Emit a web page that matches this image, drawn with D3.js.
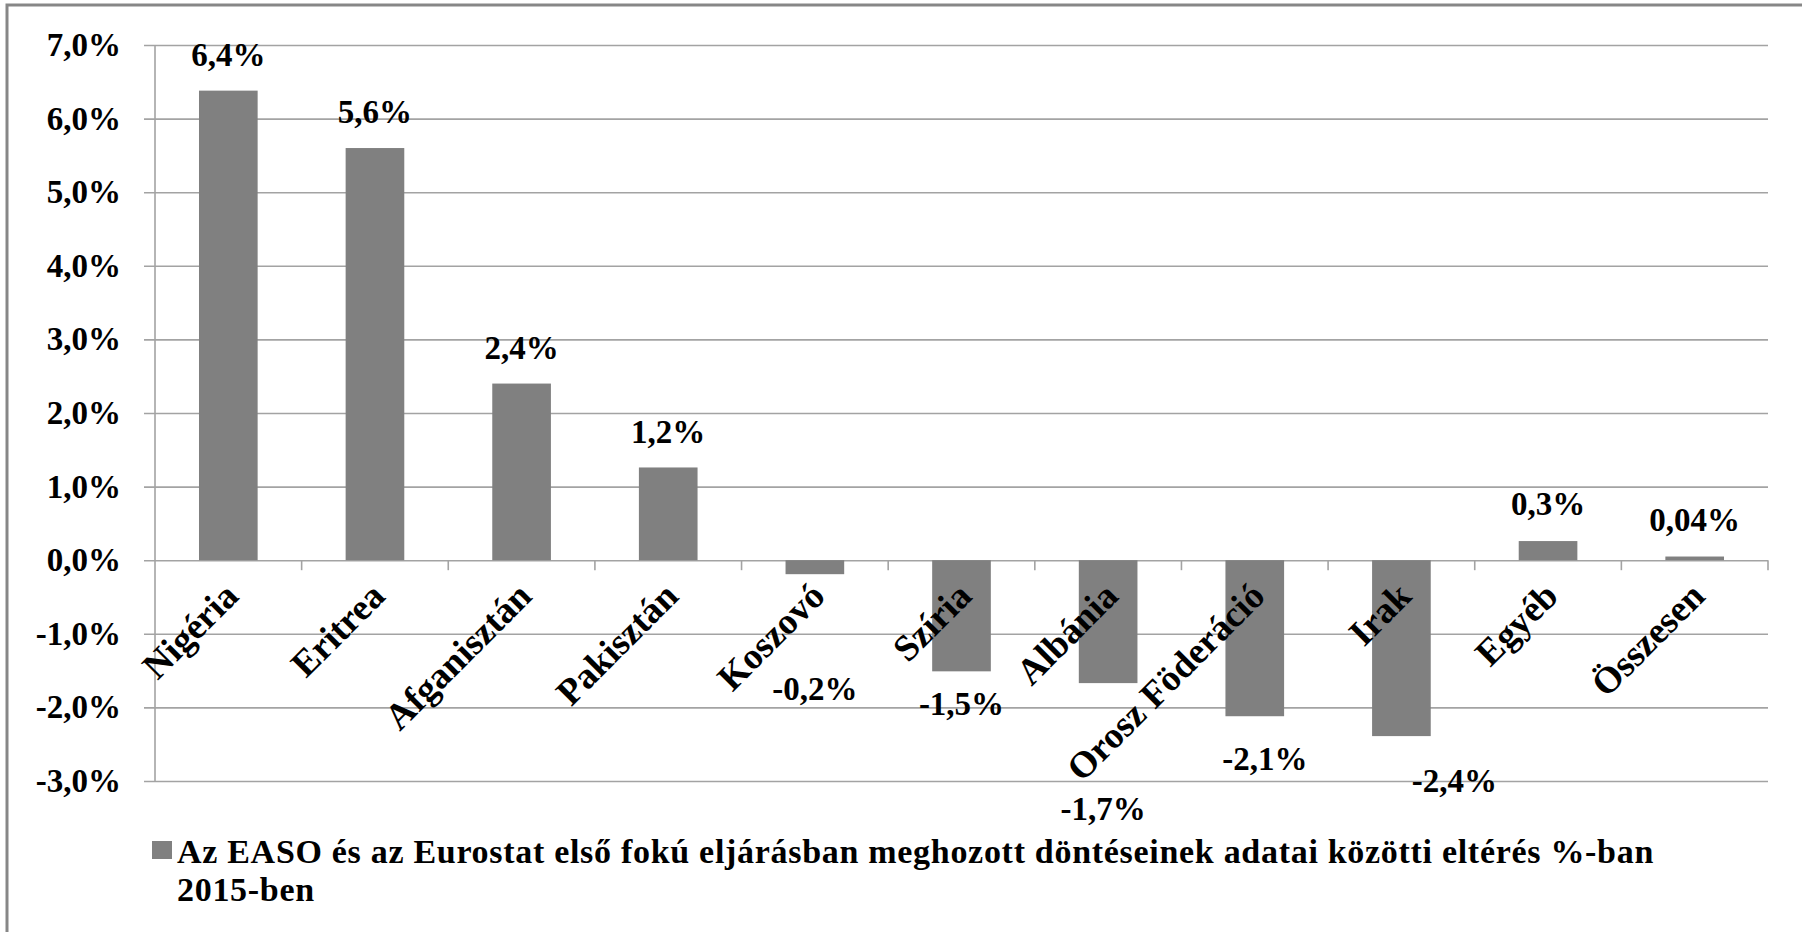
<!DOCTYPE html>
<html>
<head>
<meta charset="utf-8">
<script src="https://cdn.jsdelivr.net/npm/d3@7"></script>
<style>
  body { margin: 0; background: #fff; }
  svg { display: block; }
  text { font-family: "Liberation Serif", "Times New Roman", serif; font-weight: bold; fill: #000; }
</style>
</head>
<body>
<script>
const categories = ["Nigéria", "Eritrea", "Afganisztán", "Pakisztán", "Koszovó", "Szíria",
  "Albánia", "Orosz Föderáció", "Irak", "Egyéb", "Összesen"];
const values = [6.38, 5.6, 2.4, 1.26, -0.19, -1.51, -1.67, -2.12, -2.39, 0.26, 0.05];
const valueLabels = ["6,4%", "5,6%", "2,4%", "1,2%", "-0,2%", "-1,5%", "-1,7%", "-2,1%", "-2,4%", "0,3%", "0,04%"];
const yTicks = [-3, -2, -1, 0, 1, 2, 3, 4, 5, 6, 7];
const yTickLabels = ["-3,0%", "-2,0%", "-1,0%", "0,0%", "1,0%", "2,0%", "3,0%", "4,0%", "5,0%", "6,0%", "7,0%"];
const legendLines = [
  "Az EASO és az Eurostat első fokú eljárásban meghozott döntéseinek adatai közötti eltérés %-ban",
  "2015-ben"
];

// hand placed label nudges (px) as in the original: [dx, dy from bar end]
const labelNudge = [[0, -25], [0, -25], [0, -25], [0, -24], [0, 126], [0, 44],
  [-5, 137], [10, 54], [53, 56], [0, -26], [0, -26]];

const width = 1802;
const height = 932;
const plot = { left: 155, right: 1768, top: 45, bottom: 781 };
const fontSize = 33;
const catFontSize = 37;
const gridColor = "#a3a3a3";
const barColor = "#808080";

const svg = d3.select("body").append("svg")
  .attr("width", width)
  .attr("height", height);

svg.append("rect")
  .attr("width", width).attr("height", height)
  .attr("fill", "#fff");

// outer frame
svg.append("rect")
  .attr("x", 7).attr("y", 5)
  .attr("width", width).attr("height", height)
  .attr("fill", "none")
  .attr("stroke", "#878787")
  .attr("stroke-width", 3);

const x = d3.scaleBand()
  .domain(categories)
  .range([plot.left, plot.right]);

const y = d3.scaleLinear()
  .domain([-3, 7])
  .range([plot.bottom, plot.top]);

// y axis with gridlines
const yAxis = svg.append("g")
  .attr("transform", `translate(${plot.left - 11}, 0)`)
  .call(d3.axisLeft(y)
    .tickValues(yTicks)
    .tickSize(-(plot.right - plot.left + 11))
    .tickPadding(23)
    .tickFormat((d, i) => yTickLabels[i]));

yAxis.select(".domain").remove();
yAxis.attr("font-family", null).attr("font-size", null);
yAxis.selectAll(".tick line")
  .attr("stroke", gridColor)
  .attr("stroke-width", 1.6);
yAxis.selectAll(".tick text")
  .attr("font-size", fontSize)
  .attr("dy", "0.32em");

// vertical axis line
svg.append("line")
  .attr("x1", plot.left).attr("x2", plot.left)
  .attr("y1", y(7)).attr("y2", y(-3))
  .attr("stroke", gridColor)
  .attr("stroke-width", 1.6);

// category tick marks below zero line
svg.append("g")
  .selectAll("line")
  .data(categories)
  .join("line")
  .attr("x1", (d) => x(d) + x.bandwidth())
  .attr("x2", (d) => x(d) + x.bandwidth())
  .attr("y1", y(0))
  .attr("y2", y(0) + 10)
  .attr("stroke", gridColor)
  .attr("stroke-width", 1.6);

const barW = x.bandwidth() * 0.4;

svg.append("g")
  .selectAll("rect")
  .data(values)
  .join("rect")
  .attr("x", (d, i) => x(categories[i]) + (x.bandwidth() - barW) / 2)
  .attr("y", (d) => y(Math.max(0, d)))
  .attr("width", barW)
  .attr("height", (d) => Math.abs(y(d) - y(0)))
  .attr("fill", barColor);

// category labels, rotated
svg.append("g")
  .selectAll("text")
  .data(categories)
  .join("text")
  .attr("text-anchor", "end")
  .attr("font-size", catFontSize)
  .attr("transform", (d) =>
    `translate(${x(d) + x.bandwidth() / 2 + 12}, ${y(0) + 38}) rotate(-45)`)
  .text((d) => d);

// value labels
svg.append("g")
  .selectAll("text")
  .data(values)
  .join("text")
  .attr("text-anchor", "middle")
  .attr("font-size", fontSize)
  .attr("x", (d, i) => x(categories[i]) + x.bandwidth() / 2 + labelNudge[i][0])
  .attr("y", (d, i) => y(d) + labelNudge[i][1])
  .text((d, i) => valueLabels[i]);

// legend
svg.append("rect")
  .attr("x", 152).attr("y", 841)
  .attr("width", 20).attr("height", 18)
  .attr("fill", barColor);

svg.append("g")
  .selectAll("text")
  .data(legendLines)
  .join("text")
  .attr("font-size", 34)
  .attr("letter-spacing", 0.7)
  .attr("x", 177)
  .attr("y", (d, i) => 863 + i * 38)
  .text((d) => d);
</script>
</body>
</html>
